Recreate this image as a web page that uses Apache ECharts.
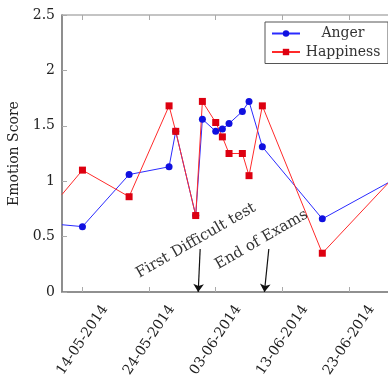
<!DOCTYPE html>
<html>
<head>
<meta charset="utf-8">
<script src="https://cdn.jsdelivr.net/npm/echarts@6/dist/echarts.min.js"></script>
<style>
  html, body { margin: 0; padding: 0; background: #fff; overflow: hidden; }
  /* the plot runs a little past the right edge of the window, as in the original crop */
  #emotions { width: 397px; height: 375px; }
</style>
</head>
<body>
<div id="emotions"></div>
<script>
// dates of the measurements; first one sits on the left edge of the plot
var dates = ['2014-05-10 22:20', '2014-05-14', '2014-05-21', '2014-05-27', '2014-05-28',
  '2014-05-31', '2014-06-01', '2014-06-03', '2014-06-04', '2014-06-05', '2014-06-07',
  '2014-06-08', '2014-06-10', '2014-06-19', '2014-06-29'];
var anger = [0.607, 0.59, 1.06, 1.13, 1.45, 0.69, 1.56, 1.45, 1.47, 1.52, 1.63, 1.72, 1.31, 0.66, 0.99];
var happiness = [0.88, 1.10, 0.86, 1.68, 1.45, 0.69, 1.72, 1.53, 1.40, 1.25, 1.25, 1.05, 1.68, 0.35, 0.99];

var tickDates = ['2014-05-14', '2014-05-24', '2014-06-03', '2014-06-13', '2014-06-23'];
var xStart = '2014-05-10 22:20';
var xEnd = '2014-06-30 05:00';

// annotations: text position and arrow (from, to)
var notes = ['First Difficult test', 'End of Exams'];
var noteAt = [['2014-05-31 01:00', 0.463], ['2014-06-09 21:00', 0.472]];
var arrowFrom = [['2014-05-31 16:00', 0.388], ['2014-06-10 23:15', 0.388]];
var arrowTo = [['2014-05-31 09:00', 0], ['2014-06-10 07:30', 0]];

var font = 'DejaVu Serif';
var chart = echarts.init(document.getElementById('emotions'));

function pad(n) { return (n < 10 ? '0' : '') + n; }
function fmtDate(v) {
  var d = new Date(v);
  return pad(d.getDate()) + '-' + pad(d.getMonth() + 1) + '-' + d.getFullYear();
}
function toTime(s) { return echarts.time.parse(s).getTime(); }
function toPoint(p) { return [toTime(p[0]), p[1]]; }

function seriesData(values) {
  return values.map(function (v, i) {
    var item = { value: [toTime(dates[i]), v] };
    // edge points: the marker falls outside the visible part of the plot
    if (i === 0 || i === values.length - 1) item.symbol = 'none';
    return item;
  });
}

var tickTimes = tickDates.map(toTime);

chart.setOption({
  animation: false,
  grid: {
    left: 62, top: 15, right: 0, bottom: 83,
    outerBoundsMode: 'none',
    show: true, borderColor: '#8a8a8a', borderWidth: 1.2
  },
  legend: {
    left: 265, top: 22,
    orient: 'vertical',
    padding: [4.5, 7, 4.5, 6],
    itemGap: 4.5,
    itemWidth: 28,
    itemHeight: 8,
    borderColor: '#555',
    borderWidth: 1,
    backgroundColor: '#fff',
    formatter: function (name) { return '{t|' + name + '}'; },
    textStyle: {
      rich: {
        t: { width: 76, align: 'center', fontFamily: font, fontSize: 14, lineHeight: 17, color: '#333' }
      }
    },
    data: ['Anger', 'Happiness']
  },
  xAxis: [{
    type: 'value',
    min: toTime(xStart),
    max: toTime(xEnd),
    splitLine: { show: false },
    axisLine: { show: true, lineStyle: { color: '#808080', width: 1.5 } },
    axisTick: { show: true, inside: true, length: 5, customValues: tickTimes, lineStyle: { color: '#aaa' } },
    axisLabel: {
      customValues: tickTimes,
      formatter: fmtDate,
      rotate: 56,
      align: 'center',
      verticalAlign: 'middle',
      margin: 48,
      fontFamily: font,
      fontSize: 14,
      color: '#222'
    }
  }, {
    type: 'value',
    position: 'top',
    min: toTime(xStart),
    max: toTime(xEnd),
    splitLine: { show: false },
    axisLine: { show: false },
    axisTick: { show: true, inside: true, length: 5, customValues: tickTimes, lineStyle: { color: '#aaa' } },
    axisLabel: { show: false }
  }],
  yAxis: {
    type: 'value',
    min: 0,
    max: 2.5,
    interval: 0.5,
    name: 'Emotion Score',
    nameLocation: 'middle',
    nameGap: 33,
    nameTextStyle: { fontFamily: font, fontSize: 14, color: '#222' },
    splitLine: { show: false },
    axisLine: { show: true, lineStyle: { color: '#808080', width: 1.5 } },
    axisTick: { show: true, inside: true, length: 5, lineStyle: { color: '#aaa' } },
    axisLabel: { margin: 7, fontFamily: font, fontSize: 14, color: '#222' }
  },
  series: [{
    name: 'Anger',
    type: 'line',
    symbol: 'circle',
    symbolSize: 7,
    color: '#1010e0',
    lineStyle: { width: 1, color: '#2a2aff' },
    data: seriesData(anger),
    markLine: {
      silent: true,
      symbol: ['none', 'arrow'],
      symbolSize: 8,
      label: { show: false },
      lineStyle: { color: '#111', width: 1.2, type: 'solid' },
      data: arrowFrom.map(function (p, i) {
        return [{ coord: toPoint(p) }, { coord: toPoint(arrowTo[i]) }];
      })
    },
    markPoint: {
      silent: true,
      symbol: 'circle',
      symbolSize: 0,
      label: {
        show: true,
        position: 'inside',
        formatter: '{b}',
        rotate: 30,
        fontFamily: font,
        fontSize: 15,
        color: '#333'
      },
      data: notes.map(function (t, i) {
        return { name: t, coord: toPoint(noteAt[i]) };
      })
    }
  }, {
    name: 'Happiness',
    type: 'line',
    symbol: 'rect',
    symbolSize: 7,
    color: '#dd0010',
    lineStyle: { width: 1, color: '#ff2a2a' },
    data: seriesData(happiness)
  }]
});

window.addEventListener('resize', function () {
  chart.resize();
});
</script>
</body>
</html>
